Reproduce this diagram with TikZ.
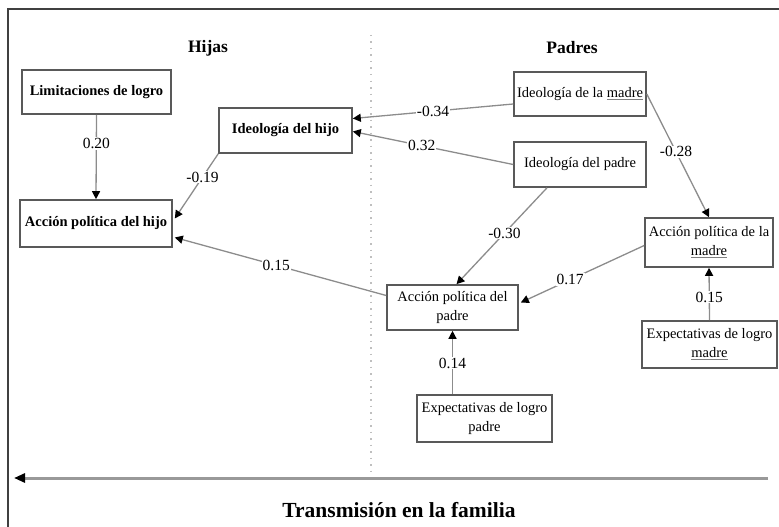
\documentclass[tikz,border=0pt]{standalone}
\usepackage{fontspec}
\setmainfont{Liberation Serif}
\usetikzlibrary{arrows.meta,calc}
\newcommand{\madreul}{\textcolor{black!50}{\underline{\textcolor{black}{madre}}}}
\begin{document}
\begin{tikzpicture}[x=1pt,y=-1pt,
  box/.style={draw=black!65,line width=1.6pt,fill=white,align=center,inner sep=2pt,
    font=\fontsize{14.5}{19}\selectfont},
  bbox/.style={box,font=\fontsize{14.5}{19}\selectfont\bfseries},
  conn/.style={draw=black!45,line width=1.3pt,
    -{Triangle[length=8pt,width=8pt,fill=black,color=black]}},
  lab/.style={fill=white,inner sep=1pt,text=black,font=\fontsize{15.5}{17}\selectfont},
  title/.style={font=\fontsize{17.5}{20}\selectfont\bfseries}]
\useasboundingbox (0,0) rectangle (779,527);
% frame
\coordinate (fbl) at (8,545);
\coordinate (ftl) at (8,9);
\coordinate (ftr) at (795,9);
\draw[black!75,line width=1.3pt] (fbl) -- (ftl) -- (ftr);
% divider
\coordinate (dtop) at (371,35);
\coordinate (dbot) at (371,472);
\draw[black!25,line width=1.3pt,dash pattern=on 1.5pt off 5pt] (dtop) -- (dbot);
% titles
\node[title] (thijas) at (208,48) {Hijas};
\node[title] (tpadres) at (572,48) {Padres};
% boxes
\node[bbox,minimum width=149pt,minimum height=44pt] (lim) at (96.5,92) {Limitaciones de logro};
\node[bbox,minimum width=133pt,minimum height=45pt] (ihijo) at (285.5,130.5) {Ideología del hijo};
\node[bbox,minimum width=152pt,minimum height=47pt] (ahijo) at (96,223.5) {Acción política del hijo};
\node[box,minimum width=132pt,minimum height=44pt] (imadre) at (580,94) {Ideología de la \madreul};
\node[box,minimum width=132pt,minimum height=45pt] (ipadre) at (580,164.5) {Ideología del padre};
\node[box,minimum width=128pt,minimum height=49pt] (amadre) at (709,242.5) {Acción política de la\\\madreul};
\node[box,minimum width=135pt,minimum height=47pt] (emadre) at (709.5,344.5) {Expectativas de logro\\\madreul};
\node[box,minimum width=131pt,minimum height=45pt] (apadre) at (452.5,307.5) {Acción política del\\padre};
\node[box,minimum width=135pt,minimum height=47pt] (epadre) at (484.5,418.5) {Expectativas de logro\\padre};
% connectors
\draw[conn] (lim.south) -- node[lab,pos=0.34] {0.20} (ahijo.north);
\draw[conn] (ihijo.south west) -- node[lab,pos=0.36] {-0.19} ($(ahijo.east)+(2,-5)$);
\draw[conn] ($(imadre.west)+(0,10)$) -- node[lab,pos=0.5] {-0.34} ($(ihijo.east)+(0,-12)$);
\draw[conn] (ipadre.west) -- node[lab,pos=0.57] {0.32} ($(ihijo.east)+(0,1)$);
\draw[conn] (imadre.east) -- node[lab,pos=0.47] {-0.28} (amadre.north);
\draw[conn] ($(ipadre.south)+(-33,0)$) -- node[lab,pos=0.47] {-0.30} ($(apadre.north)+(4,0)$);
\draw[conn] ($(amadre.west)+(0,3)$) -- node[lab,pos=0.6] {0.17} ($(apadre.east)+(2,-5)$);
\draw[conn] (emadre.north) -- node[lab,pos=0.44] {0.15} (amadre.south);
\draw[conn] (epadre.north -| apadre.south) -- node[lab,pos=0.49] {0.14} (apadre.south);
\draw[conn] ($(apadre.west)+(0,-12)$) -- node[lab,pos=0.52] {0.15} ($(ahijo.east)+(2,14)$);
% transmission arrow
\coordinate (aR) at (768,478);
\coordinate (aL) at (14,478);
\draw[black!40,line width=3pt,-{Triangle[length=11pt,width=9pt,fill=black,color=black]}] (aR) -- (aL);
\node[font=\fontsize{21.5}{24}\selectfont\bfseries] (trans) at (399,510) {Transmisión en la familia};
\end{tikzpicture}
\end{document}
